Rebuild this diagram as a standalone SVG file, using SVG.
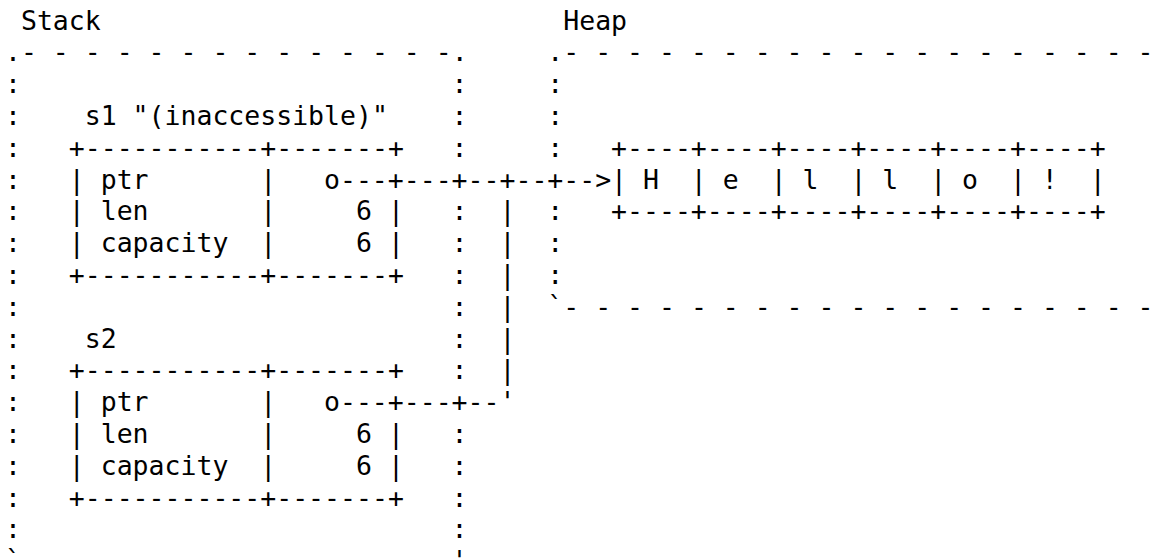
<svg xmlns="http://www.w3.org/2000/svg" width="1157" height="560" viewBox="0 0 1157 560">
<style>
text { font-family: "DejaVu Sans Mono", "Liberation Mono", monospace; font-size: 26.5px; fill: #000; white-space: pre; }
</style>
<rect width="1157" height="560" fill="#fff"/>

<g id="stack-frame">
  <text x="20.95" y="29.5">Stack</text>
  <text x="5" y="61.3">.- - - - - - - - - - - - - -.</text>
  <text x="5"><tspan x="5" y="93.1">:</tspan><tspan x="5" y="124.9">:</tspan><tspan x="5" y="156.7">:</tspan><tspan x="5" y="188.5">:</tspan><tspan x="5" y="220.3">:</tspan><tspan x="5" y="252.1">:</tspan><tspan x="5" y="283.9">:</tspan><tspan x="5" y="315.7">:</tspan><tspan x="5" y="347.5">:</tspan><tspan x="5" y="379.3">:</tspan><tspan x="5" y="411.1">:</tspan><tspan x="5" y="442.9">:</tspan><tspan x="5" y="474.7">:</tspan><tspan x="5" y="506.5">:</tspan><tspan x="5" y="538.3">:</tspan><tspan x="5" y="570.1">`</tspan></text>
  <text x="451.6"><tspan x="451.6" y="93.1">:</tspan><tspan x="451.6" y="124.9">:</tspan><tspan x="451.6" y="156.7">:</tspan><tspan x="451.6" y="220.3">:</tspan><tspan x="451.6" y="252.1">:</tspan><tspan x="451.6" y="283.9">:</tspan><tspan x="451.6" y="315.7">:</tspan><tspan x="451.6" y="347.5">:</tspan><tspan x="451.6" y="379.3">:</tspan><tspan x="451.6" y="442.9">:</tspan><tspan x="451.6" y="474.7">:</tspan><tspan x="451.6" y="506.5">:</tspan><tspan x="451.6" y="538.3">:</tspan><tspan x="451.6" y="570.1">'</tspan></text>
</g>

<g id="s1">
  <text x="84.75" y="124.9">s1 "(inaccessible)"</text>
  <text x="68.8" y="156.7">+-----------+-------+</text>
  <text x="68.8" y="188.5">| ptr       |   o</text>
  <text x="68.8" y="220.3">| len       |     6 |</text>
  <text x="68.8" y="252.1">| capacity  |     6 |</text>
  <text x="68.8" y="283.9">+-----------+-------+</text>
</g>

<g id="s2">
  <text x="84.75" y="347.5">s2</text>
  <text x="68.8" y="379.3">+-----------+-------+</text>
  <text x="68.8" y="411.1">| ptr       |   o</text>
  <text x="68.8" y="442.9">| len       |     6 |</text>
  <text x="68.8" y="474.7">| capacity  |     6 |</text>
  <text x="68.8" y="506.5">+-----------+-------+</text>
</g>

<g id="heap-frame">
  <text x="563.25" y="29.5">Heap</text>
  <text x="547.3" y="61.3">.- - - - - - - - - - - - - - - - - - -</text>
  <text x="547.3"><tspan x="547.3" y="93.1">:</tspan><tspan x="547.3" y="124.9">:</tspan><tspan x="547.3" y="156.7">:</tspan><tspan x="547.3" y="220.3">:</tspan><tspan x="547.3" y="252.1">:</tspan><tspan x="547.3" y="283.9">:</tspan></text>
  <text x="547.3" y="315.7">`- - - - - - - - - - - - - - - - - - -</text>
</g>

<g id="heap-buffer">
  <text x="611.1" y="156.7">+----+----+----+----+----+----+</text>
  <text x="611.1" y="188.5">| H  | e  | l  | l  | o  | !  |</text>
  <text x="611.1" y="220.3">+----+----+----+----+----+----+</text>
</g>

<g id="connectors">
  <text x="339.95" y="188.5">---+---+--+--+--&gt;</text>
  <text x="499.45"><tspan x="499.45" y="220.3">|</tspan><tspan x="499.45" y="252.1">|</tspan><tspan x="499.45" y="283.9">|</tspan><tspan x="499.45" y="315.7">|</tspan><tspan x="499.45" y="347.5">|</tspan><tspan x="499.45" y="379.3">|</tspan></text>
  <text x="339.95" y="411.1">---+---+--'</text>
</g>
</svg>
